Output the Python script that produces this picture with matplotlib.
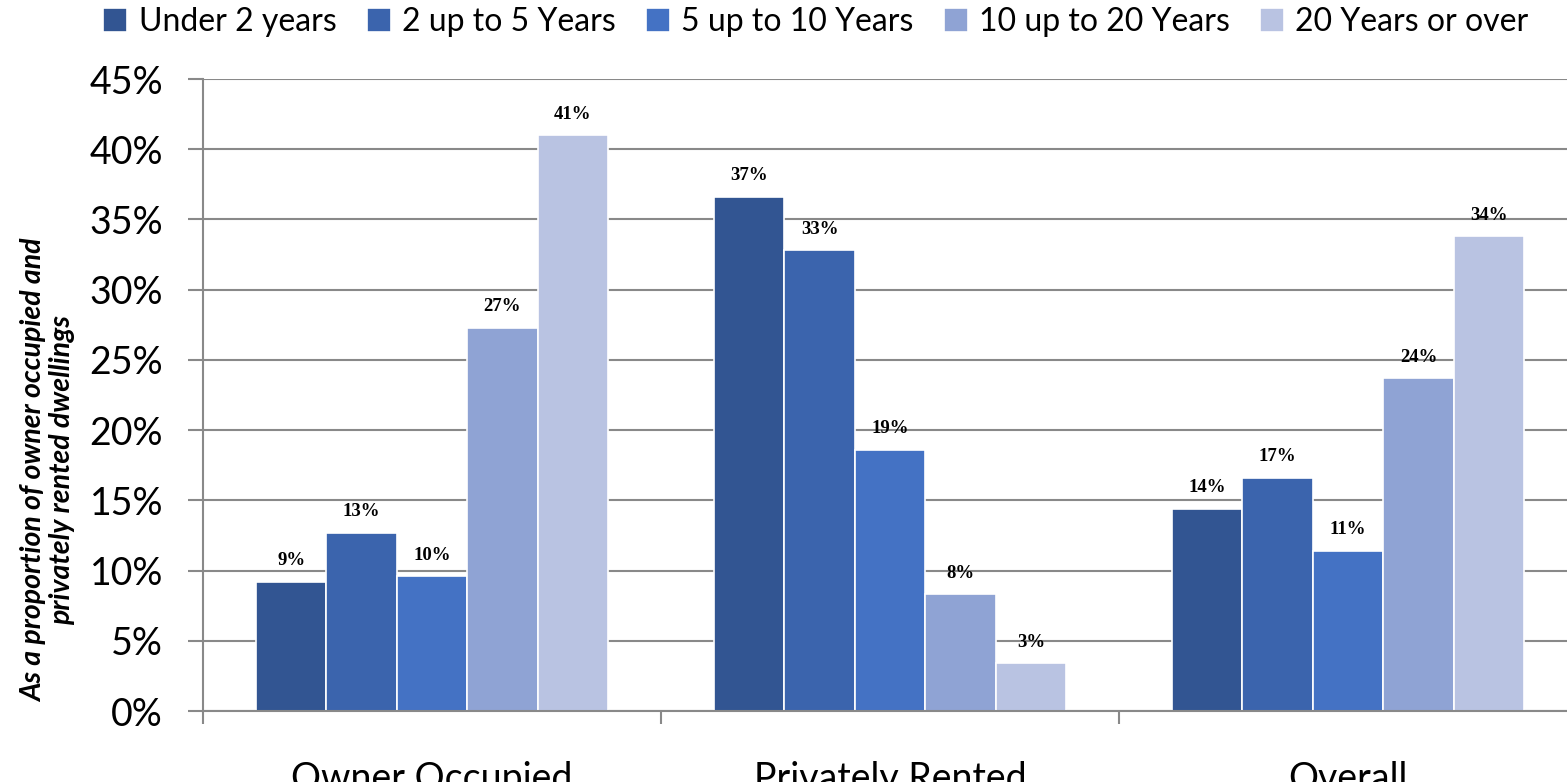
import numpy as np
import matplotlib.pyplot as plt
from matplotlib.ticker import FuncFormatter

# data (percent of dwellings)
categories = ["Owner Occupied", "Privately Rented", "Overall"]
series_names = ["Under 2 years", "2 up to 5 Years", "5 up to 10 Years",
                "10 up to 20 Years", "20 Years or over"]
under_2 = [9.2, 36.6, 14.4]
two_to_5 = [12.7, 32.8, 16.6]
five_to_10 = [9.6, 18.6, 11.4]
ten_to_20 = [27.3, 8.3, 23.7]
over_20 = [41.0, 3.4, 33.8]
yticks = [0, 5, 10, 15, 20, 25, 30, 35, 40, 45]

colors = ["#325592", "#3b64ad", "#4472c4", "#8fa3d4", "#b9c3e2"]
grey = "#898989"
font = "Lato"

fig = plt.figure(figsize=(15.67, 7.82), dpi=100)
ax = fig.add_axes([203 / 1567, 71 / 782, 1374 / 1567, 632 / 782])

x = np.arange(len(categories))
w = 1 / 6.5
all_series = [under_2, two_to_5, five_to_10, ten_to_20, over_20]
for i, (vals, name, c) in enumerate(zip(all_series, series_names, colors)):
    pos = x + (i - 2) * w
    ax.bar(pos, vals, w, color=c, edgecolor="white", linewidth=1.2,
           label=name, zorder=2)
    for px, v in zip(pos, vals):
        ax.annotate(f"{v:.0f}%", (px, v), xytext=(0, 9),
                    textcoords="offset points", ha="center", va="bottom",
                    fontsize=13.5, fontweight="bold", family="Liberation Serif")

ax.set_xlim(-0.5, 2.5)
ax.set_ylim(0, 45)
ax.set_yticks(yticks)
ax.yaxis.set_major_formatter(FuncFormatter(lambda v, p: f"{v:.0f}%"))
ax.yaxis.grid(True, color=grey, linewidth=1.5)
ax.set_axisbelow(True)

for s in ["top", "right"]:
    ax.spines[s].set_visible(False)
for s in ["left", "bottom"]:
    ax.spines[s].set_color(grey)
    ax.spines[s].set_linewidth(1.5)

ax.tick_params(axis="y", length=10.8, width=1.5, color=grey, pad=18,
               labelsize=27)
ax.set_xticks(x)
ax.set_xticklabels(categories)
ax.set_xticks([-0.5, 0.5, 1.5, 2.5], minor=True)
ax.tick_params(axis="x", which="major", length=0, pad=36, labelsize=27)
ax.tick_params(axis="x", which="minor", length=9.4, width=1.5, color=grey)
for lab in ax.get_xticklabels() + ax.get_yticklabels():
    lab.set_family(font)

# y axis title, placed low like in the original
fig.text(48 / 1567, 1 - 470 / 782,
         "As a proportion of owner occupied and\nprivately rented dwellings",
         rotation=90, ha="center", va="center", multialignment="center",
         fontsize=20.5, fontweight="bold", style="italic", family=font,
         linespacing=1.05)

fig.legend(loc="center", bbox_to_anchor=(816 / 1567, 1 - 22 / 782), ncol=5,
           frameon=False, prop={"family": font, "size": 23},
           handlelength=0.75, handleheight=0.75, handletextpad=0.35,
           columnspacing=0.95, borderaxespad=0)

fig.savefig("out.png", dpi=100)
